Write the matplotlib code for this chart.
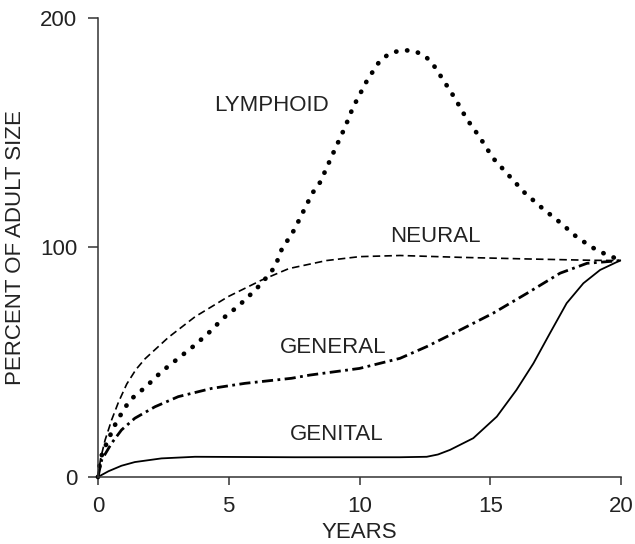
import matplotlib
matplotlib.use("Agg")
import matplotlib.pyplot as plt

plt.rcParams['font.family'] = ['Liberation Sans', 'DejaVu Sans']

# Lymphoid (dotted)
lym_x = [0, 0.08, 0.2, 0.4, 0.52, 0.71, 0.9, 1.22, 1.54, 1.86, 2.43, 3.07, 3.71, 4.28,
         4.79, 5.37, 5.88, 6.26, 6.77, 7.02, 7.5, 8.2, 8.5, 8.95, 9.45, 9.75, 10.3, 10.8,
         11.2, 11.66, 12.1, 12.5, 12.8, 13.2, 13.65, 14.1, 14.6, 15.1, 15.7,
         16.3, 17.0, 17.7, 18.3, 18.9, 19.5, 20]
lym_y = [0, 6.7, 11.8, 16, 19.7, 24, 27.7, 33.5, 36.5, 39.6, 45.9, 51.7, 57.5, 63.3,
         69.2, 74.5, 80, 84.4, 91.6, 99, 107.6, 123.7, 128.5, 140, 152.5, 161, 173, 181.7,
         184.8, 186, 185.6, 183.5, 180, 173, 165, 156, 148, 139, 131.5,
         124, 117, 110.6, 104.6, 100, 96.5, 94.5]

# Neural (dashed)
neu_x = [0, 0.1, 0.27, 0.52, 0.78, 1.1, 1.45, 1.8, 2.69, 3.71, 4.98, 6.26, 7.3, 8.74,
         10.0, 11.55, 13.84, 16.39, 18.94, 20]
neu_y = [0, 8, 16, 24.8, 32.5, 40.5, 46.8, 51.5, 60.8, 69.8, 78.6, 85.8, 90.8, 94.3,
         96, 96.5, 95.7, 95, 94.4, 94.3]

# General (dash-dot)
gen_x = [0, 0.14, 0.52, 0.9, 1.41, 2.18, 3.07, 4.35, 5.62, 7.4, 8.1, 10.0, 11.55,
         12.57, 13.84, 15.1, 16.4, 17.67, 18.7, 20]
gen_y = [0, 7.4, 14.7, 20.5, 25.6, 30.6, 35, 38.6, 40.8, 43, 44.4, 47.3, 51.7,
         56.8, 64, 71.3, 80, 88.8, 93.1, 94.3]

# Genital (solid)
genit_x = [0, 0.4, 0.9, 1.41, 2.43, 3.71, 7.5, 11.55, 12.57, 13.0, 13.46, 14.35, 15.25, 16.0,
           16.65, 17.28, 17.92, 18.56, 19.2, 19.96]
genit_y = [0, 2.5, 4.9, 6.5, 8.1, 8.8, 8.6, 8.6, 8.8, 9.8, 11.8, 16.9, 26.3, 37.9,
           49.5, 62.6, 75.7, 84.4, 90.2, 94.3]

x_ticks = [0, 5, 10, 15, 20]
y_ticks = [0, 100, 200]

fig = plt.figure(figsize=(6.35, 5.44), dpi=100)
ax = fig.add_axes([0.1543, 0.1232, 0.8237, 0.8438])

ax.plot(lym_x, lym_y, color='black', lw=3.4, linestyle=(0, (0.05, 2.3)),
        dash_capstyle='round', solid_capstyle='round', clip_on=False)
ax.plot(neu_x, neu_y, color='black', lw=1.2, linestyle=(0, (4.5, 2.5)), clip_on=False)
ax.plot(gen_x, gen_y, color='black', lw=2.0, linestyle=(0, (4.0, 1.6, 1.0, 1.6)), clip_on=False)
ax.plot(genit_x, genit_y, color='black', lw=1.3, clip_on=False)

ax.set_xlim(0, 20)
ax.set_ylim(0, 200)
ax.set_xticks(x_ticks)
ax.set_yticks(y_ticks)
ax.spines['top'].set_visible(False)
ax.spines['right'].set_visible(False)
for s in ['left', 'bottom']:
    ax.spines[s].set_color('#333333')
    ax.spines[s].set_linewidth(1.1)
ax.tick_params(axis='both', colors='#333333', labelcolor='#222222', labelsize=16, width=1.1)
ax.tick_params(axis='y', length=7, pad=8)
ax.tick_params(axis='x', length=6, pad=8)

ax.set_xlabel('YEARS', fontsize=16, color='#222222', labelpad=3)
ax.set_ylabel('PERCENT OF ADULT SIZE', fontsize=16, color='#222222', labelpad=10)

txt = dict(fontsize=16, color='#222222', ha='center', va='center')
ax.text(6.62, 162, 'LYMPHOID', **txt)
ax.text(12.9, 104.6, 'NEURAL', **txt)
ax.text(8.99, 56.2, 'GENERAL', **txt)
ax.text(9.14, 18.3, 'GENITAL', **txt)

fig.savefig('out.png', dpi=100)
